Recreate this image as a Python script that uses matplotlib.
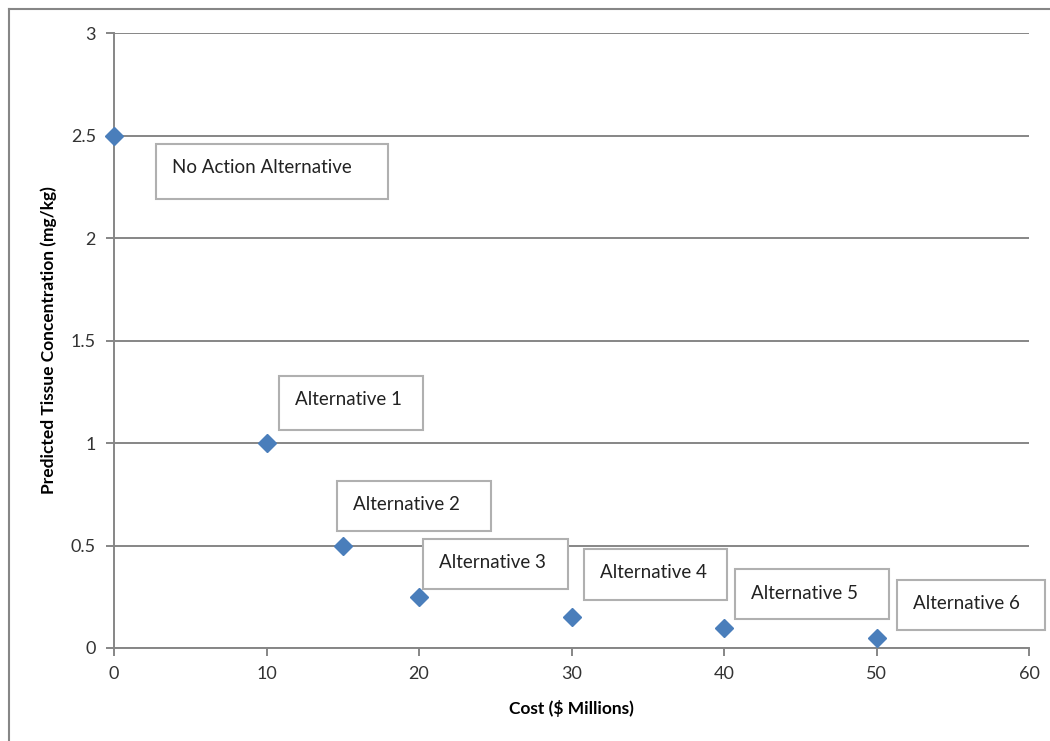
import matplotlib.pyplot as plt
from matplotlib.patches import Rectangle
from matplotlib.lines import Line2D

plt.rcParams['font.family'] = ['Lato', 'DejaVu Sans']

# data
cost = [0, 10, 15, 20, 30, 40, 50]
concentration = [2.5, 1.0, 0.5, 0.25, 0.15, 0.1, 0.05]
names = ["No Action Alternative", "Alternative 1", "Alternative 2", "Alternative 3",
         "Alternative 4", "Alternative 5", "Alternative 6"]

# label box placement (data units): left, right, bottom, top
box_x0 = [2.75, 10.82, 14.62, 20.26, 30.82, 40.72, 51.34]
box_x1 = [17.97, 20.26, 24.72, 29.77, 40.20, 50.82, 61.05]
box_y0 = [2.190, 1.063, 0.571, 0.288, 0.234, 0.141, 0.088]
box_y1 = [2.459, 1.327, 0.815, 0.532, 0.483, 0.385, 0.332]

grey = '#868686'

fig = plt.figure(figsize=(10.5, 7.41), dpi=100)
ax = fig.add_axes([114 / 1050, 93 / 741, 915 / 1050, 615 / 741])

ax.set_xlim(0, 60)
ax.set_ylim(0, 3)
ax.set_xticks(range(0, 61, 10))
ax.set_yticks([0, 0.5, 1, 1.5, 2, 2.5, 3])
ax.set_yticklabels(['0', '0.5', '1', '1.5', '2', '2.5', '3'])
ax.yaxis.grid(True, color=grey, linewidth=1.4)
ax.set_axisbelow(True)
for s in ['top', 'right']:
    ax.spines[s].set_visible(False)
for s in ['left', 'bottom']:
    ax.spines[s].set_color(grey)
    ax.spines[s].set_linewidth(1.4)
ax.tick_params(axis='both', colors=grey, length=6, width=1.4, direction='out',
               labelcolor='#333333', labelsize=13)
ax.tick_params(axis='x', pad=7)
ax.tick_params(axis='y', pad=7)

ax.plot(cost, concentration, linestyle='none', marker='D', markersize=9,
        color='#4a7ebb', clip_on=False, zorder=5)

ax.set_xlabel('Cost ($ Millions)', fontsize=12.5, fontweight='bold', labelpad=13)
ax.set_ylabel('Predicted Tissue Concentration (mg/kg)', fontsize=12.5,
              fontweight='bold', labelpad=10)

# label boxes
px_x = 60 / 915
px_y = 3 / 615
for name, x0, x1, y0, y1 in zip(names, box_x0, box_x1, box_y0, box_y1):
    ax.add_patch(Rectangle((x0, y0), x1 - x0, y1 - y0, facecolor='white',
                           edgecolor='#b0b0b0', linewidth=1.5, clip_on=False, zorder=6))
    ax.text(x0 + 16 * px_x, y1 - 24 * px_y, name, fontsize=13.5, color='#222222',
            ha='left', va='center', zorder=7, clip_on=False)

# outer chart frame (partially visible)
fig.add_artist(Line2D([9 / 1050, 9 / 1050], [0, 1 - 9 / 741], color=grey, linewidth=1.5))
fig.add_artist(Line2D([9 / 1050, 1], [1 - 9 / 741, 1 - 9 / 741], color=grey, linewidth=1.5))

fig.savefig('out.png', dpi=100)
